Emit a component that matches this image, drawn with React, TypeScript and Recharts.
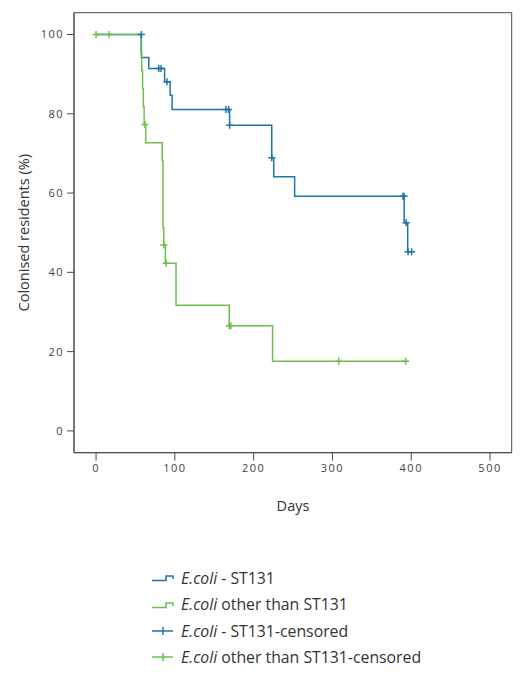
import { ComposedChart, Line, Scatter, XAxis, YAxis, ReferenceArea } from 'recharts';

// Kaplan-Meier steps (day, % still colonised)
const st131Days = [0, 57.5, 67, 87, 94, 96.5, 169.5, 223, 225.5, 252, 391, 395.5, 400.5];
const st131Pct = [100, 94.2, 91.4, 88.1, 84.7, 81.1, 77.1, 68.9, 64.1, 59.2, 52.5, 45.2, 45.2];
const st131CensorDays = [57.5, 79.5, 82.5, 90, 164.8, 168.2, 169.5, 223, 389.5, 391, 393.5, 396, 400.5];
const st131CensorPct = [100, 91.4, 91.4, 88.1, 81.1, 81.1, 77.1, 68.9, 59.2, 59.2, 52.5, 45.2, 45.2];

const otherDays = [0, 57, 58, 59, 60, 61, 63, 84, 85, 86, 88, 101.5, 169, 224, 393];
const otherPct = [100, 95.5, 90.9, 86.4, 81.8, 77.3, 72.7, 68.2, 51.2, 46.9, 42.3, 31.7, 26.5, 17.6, 17.6];
const otherCensorDays = [0, 16.5, 62, 86, 89, 169, 171, 308, 393];
const otherCensorPct = [100, 100, 77.3, 46.9, 42.3, 26.5, 26.5, 17.6, 17.6];

const xTicks = [0, 100, 200, 300, 400, 500];
const yTicks = [0, 20, 40, 60, 80, 100];

const BLUE = '#1f74a8';
const GREEN = '#6cc04f';
const AXIS = '#4a4a4a';
const FONT = '"Open Sans", sans-serif';

const zip = (days: number[], pct: number[]) => days.map((d, i) => ({ day: d, pct: pct[i] }));

const st131 = zip(st131Days, st131Pct);
const st131Censor = zip(st131CensorDays, st131CensorPct);
const other = zip(otherDays, otherPct);
const otherCensor = zip(otherCensorDays, otherCensorPct);

const cross = (color: string) => (p: any) => (
  <g stroke={color} strokeWidth={1.5}>
    <line x1={p.cx - 3.5} x2={p.cx + 3.5} y1={p.cy} y2={p.cy} />
    <line x1={p.cx} x2={p.cx} y1={p.cy - 3.5} y2={p.cy + 3.5} />
  </g>
);

const tickStyle = { fontSize: 11, fill: '#444', letterSpacing: 1.5, fontFamily: FONT };

function StepIcon({ color }: { color: string }) {
  return (
    <svg width={22} height={12} style={{ marginRight: 7 }}>
      <polyline points="0,8.5 14,8.5 14,4 21,4 21,7" fill="none" stroke={color} strokeWidth={1.5} />
    </svg>
  );
}

function CrossIcon({ color }: { color: string }) {
  return (
    <svg width={22} height={12} style={{ marginRight: 7 }}>
      <line x1={0} x2={21} y1={6} y2={6} stroke={color} strokeWidth={1.5} />
      <line x1={11} x2={11} y1={2} y2={10} stroke={color} strokeWidth={1.5} />
    </svg>
  );
}

const legendRows = [
  { icon: <StepIcon color={BLUE} />, rest: ' - ST131' },
  { icon: <StepIcon color={GREEN} />, rest: ' other than ST131' },
  { icon: <CrossIcon color={BLUE} />, rest: ' - ST131-censored' },
  { icon: <CrossIcon color={GREEN} />, rest: ' other than ST131-censored' },
];

export default function App() {
  return (
    <div style={{ position: 'absolute', left: 0, top: 0, width: 527, height: 676, background: '#fff', fontFamily: FONT }}>
      <ComposedChart width={527} height={676} margin={{ top: 12.7, right: 15.3, bottom: 193.3, left: 0 }}>
        <XAxis
          type="number" dataKey="day" domain={[-28, 527.5]} ticks={xTicks} allowDataOverflow
          height={30} tickSize={8} tickMargin={3} stroke={AXIS} tick={tickStyle}
          label={() => (
            <text x={293} y={511} textAnchor="middle" fontSize={14.5} fill="#333" fontFamily={FONT}>Days</text>
          )}
        />
        <YAxis
          type="number" dataKey="pct" domain={[-5.5, 105.5]} ticks={yTicks} allowDataOverflow
          width={74} tickSize={7} tickMargin={3} stroke={AXIS} tick={tickStyle}
          label={() => (
            <text x={24} y={232.7} transform="rotate(-90, 24, 232.7)" textAnchor="middle" dominantBaseline="central"
              fontSize={14.5} fill="#333" fontFamily={FONT}>Colonised residents (%)</text>
          )}
        />
        <ReferenceArea x1={-28} x2={527.5} y1={-5.5} y2={105.5} fill="none" stroke={AXIS} strokeWidth={1} />
        <Line data={st131} dataKey="pct" type="stepAfter" stroke={BLUE} strokeWidth={1.5} dot={false} isAnimationActive={false} />
        <Line data={other} dataKey="pct" type="stepAfter" stroke={GREEN} strokeWidth={1.5} dot={false} isAnimationActive={false} />
        <Scatter data={st131Censor} dataKey="pct" shape={cross(BLUE)} isAnimationActive={false} />
        <Scatter data={otherCensor} dataKey="pct" shape={cross(GREEN)} isAnimationActive={false} />
      </ComposedChart>
      <div style={{ position: 'absolute', left: 152, top: 565, fontSize: 15.8, color: '#333', lineHeight: '26.4px' }}>
        {legendRows.map((r, i) => (
          <div key={i} style={{ display: 'flex', alignItems: 'center', height: 26.4 }}>
            {r.icon}
            <span><i>E.coli</i>{r.rest}</span>
          </div>
        ))}
      </div>
    </div>
  );
}
